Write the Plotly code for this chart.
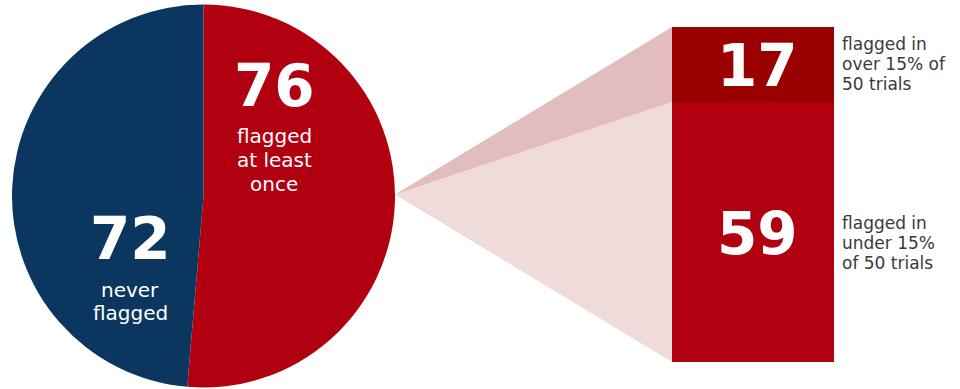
import plotly.graph_objects as go

# ---- data ----
pie_labels = ["flagged at least once", "never flagged"]
pie_values = [76, 72]
bar_labels = ["flagged in under 15% of 50 trials", "flagged in over 15% of 50 trials"]
bar_values = [59, 17]

W, H = 960, 389
NAVY = "#0b3660"
RED = "#b1000f"
DARK = "#9b0000"
PINK_UP = "#e3bdbd"
PINK_LO = "#f0dbdb"
GRAY = "#3a3a3a"
FONT = "DejaVu Sans"

# layout geometry (pixels)
pie_x0, pie_x1 = 12, 395
pie_top, pie_bot = 4, 388
bar_left, bar_right = 672, 834
bar_top_px, bar_bot_px = 27, 362

total = sum(bar_values)
ppu = (bar_bot_px - bar_top_px) / total  # pixels per unit
y_lo = -(H - bar_bot_px) / ppu
y_hi = bar_bot_px / ppu

fig = go.Figure()

# connectors (derived from data values)
apex_x = pie_x1  # right edge of pie
apex_y = total / 2
cum = 0
conn_cols = [PINK_LO, PINK_UP]
for v, c in zip(bar_values, conn_cols):
    fig.add_trace(go.Scatter(
        x=[apex_x, bar_left, bar_left, apex_x],
        y=[apex_y, cum, cum + v, apex_y],
        fill="toself", fillcolor=c, mode="lines",
        line=dict(width=0, color=c), hoverinfo="skip", showlegend=False))
    cum += v

# stacked bar
bar_cols = [RED, DARK]
bx = (bar_left + bar_right) / 2
for v, c, name in zip(bar_values, bar_cols, bar_labels):
    fig.add_trace(go.Bar(x=[bx], y=[v], width=bar_right - bar_left, name=name,
                         marker=dict(color=c, line=dict(width=0)), showlegend=False))

# pie
fig.add_trace(go.Pie(
    labels=pie_labels, values=pie_values, sort=False, direction="clockwise",
    rotation=0, marker=dict(colors=[RED, NAVY], line=dict(width=0)),
    textinfo="none", showlegend=False,
    domain=dict(x=[pie_x0 / W, pie_x1 / W], y=[(H - pie_bot) / H, (H - pie_top) / H])))

anns = []
def txt(x, y, s, size, color="white", bold=False, anchor="center"):
    anns.append(dict(x=x / W, y=1 - y / H, xref="paper", yref="paper", text=s,
                     showarrow=False, xanchor=anchor, yanchor="middle",
                     font=dict(family=FONT, size=size, color=color,
                               weight="bold" if bold else "normal")))

# pie labels
txt(274, 86, str(pie_values[0]), 58, bold=True)
for i, line in enumerate(["flagged", "at least", "once"]):
    txt(274, 136 + 24 * i, line, 20)
txt(130, 239, str(pie_values[1]), 58, bold=True)
for i, line in enumerate(["never", "flagged"]):
    txt(130, 290 + 23 * i, line, 20)

# bar labels
cum = 0
for v in bar_values:
    mid_px = bar_bot_px - (cum + v / 2) * ppu
    txt(bx + 4, mid_px + 2, str(v), 58, bold=True)
    cum += v

for i, line in enumerate(["flagged in", "over 15% of", "50 trials"]):
    txt(840, 44 + 20 * i, line, 17, color=GRAY, anchor="left")
for i, line in enumerate(["flagged in", "under 15%", "of 50 trials"]):
    txt(840, 223 + 20 * i, line, 17, color=GRAY, anchor="left")

fig.update_layout(
    width=W, height=H, margin=dict(l=0, r=0, t=0, b=0),
    paper_bgcolor="white", plot_bgcolor="white", barmode="stack", bargap=0,
    xaxis=dict(range=[0, W], visible=False, fixedrange=True),
    yaxis=dict(range=[y_lo, y_hi], visible=False, fixedrange=True),
    annotations=anns)

fig.write_html("out.html")
